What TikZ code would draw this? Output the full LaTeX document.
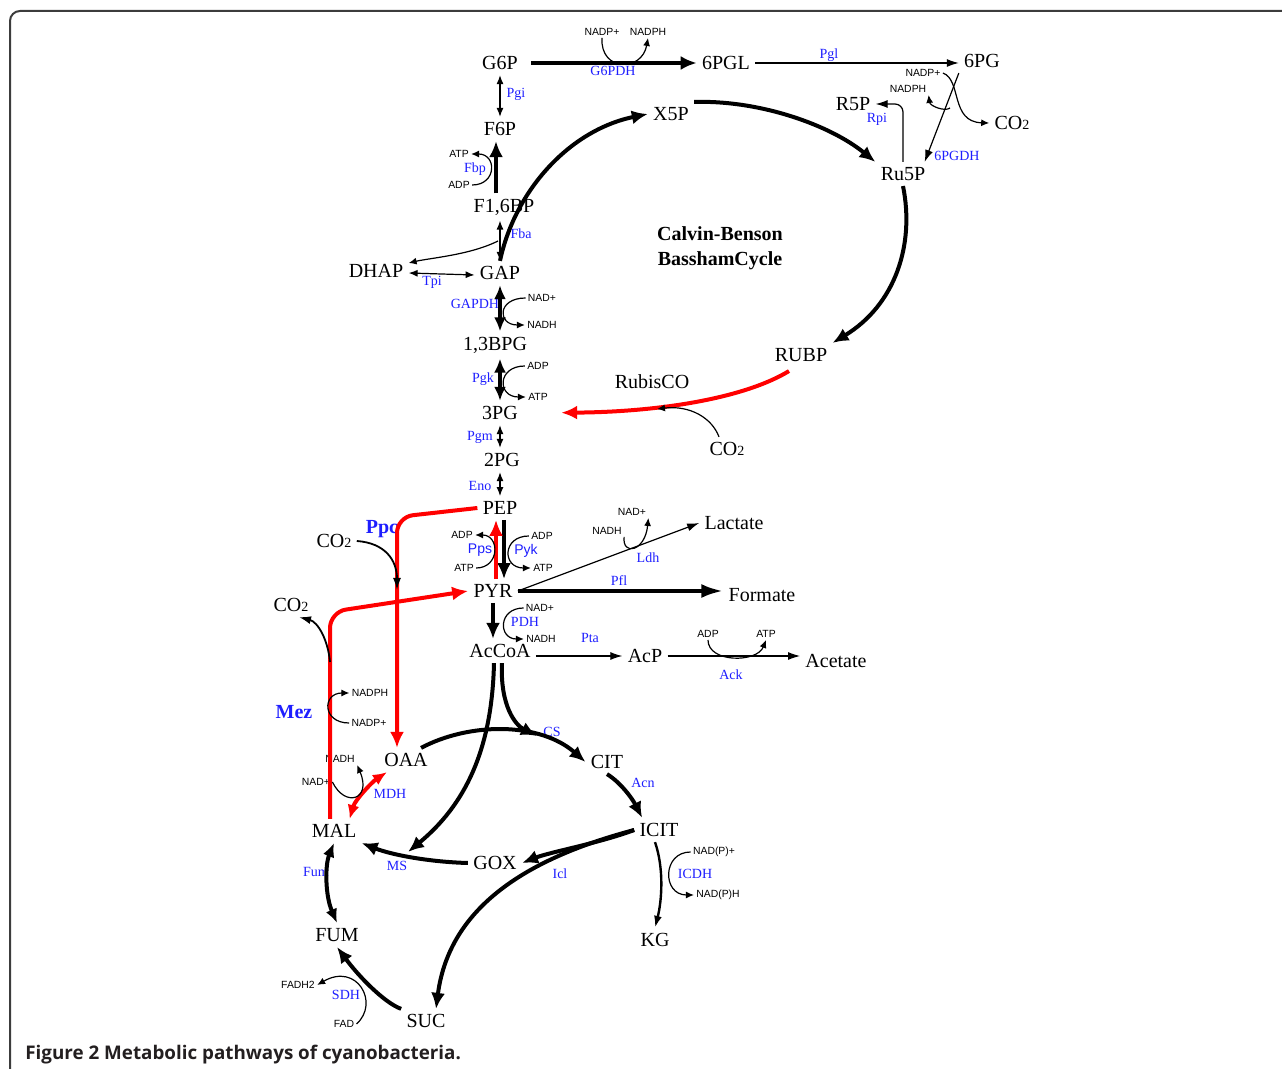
\documentclass[tikz,border=0pt]{standalone}
\usepackage{fontspec}
\setmainfont{Liberation Serif}
\newfontfamily\cofont{Liberation Sans}
\newfontfamily\capfont{Open Sans}
\usepackage{tikz}
\usetikzlibrary{arrows.meta}
\usetikzlibrary{positioning}

\definecolor{enzblue}{RGB}{30,30,255}
\definecolor{pathred}{RGB}{255,0,0}
\definecolor{framegray}{RGB}{60,60,60}
\definecolor{capgray}{RGB}{35,31,32}

\newcommand{\cotwo}{CO{\fontsize{7}{8}\selectfont 2}}

\tikzset{
  met/.style={font=\fontsize{10}{12}\selectfont, inner sep=2.5pt},
  enz/.style={font=\fontsize{7}{8}\selectfont, text=enzblue, inner sep=1pt},
  enzsf/.style={enz, font=\cofont\fontsize{7}{8}\selectfont},
  cof/.style={font=\cofont\fontsize{5.2}{6}\selectfont, inner sep=1pt},
  bigline/.style={draw, line width=2pt},
  fineline/.style={draw, line width=0.6pt},
  redline/.style={draw=pathred, line width=2pt},
  bigtip/.style={-{Latex[length=8pt,width=7pt]}},
  bigboth/.style={{Latex[length=7pt,width=6pt]}-{Latex[length=7pt,width=6pt]}},
  finetip/.style={-{Latex[length=6pt,width=4pt]}},
  fineboth/.style={{Latex[length=4.5pt,width=3.5pt]}-{Latex[length=4.5pt,width=3.5pt]}},
  cotip/.style={-{Latex[length=4pt,width=3.5pt]}},
}

\begin{document}
\begin{tikzpicture}[x=0.5pt,y=-0.5pt]
\useasboundingbox (0,0) rectangle (1282,1069);
\draw[framegray, line width=1pt, rounded corners=5pt] (1282,11) -- (10,11) -- (10,1069);

\begin{scope}[every node/.style={met}]
    \node (g6p) at (500,63) {G6P};
    \node (pgl) at (726,63) {6PGL};
    \node (pg) at (982,61) {6PG};
    \node (x5p) at (671,114) {X5P};
    \node (r5p) at (853,104) {R5P};
    \node (co2t) at (1012,123) {\cotwo};
    \node (ru5p) at (903,174) {Ru5P};
    \node (f6p) at (500,129) {F6P};
    \node (fbp) at (504,207) {F1,6BP};
    \node (dhap) at (376,271) {DHAP};
    \node (gap) at (500,273) {GAP};
    \node (bpg) at (495,345) {1,3BPG};
    \node (pga3) at (500,413) {3PG};
    \node (pga2) at (502,460) {2PG};
    \node (pep) at (500,508) {PEP};
    \node (pyr) at (493,591) {PYR};
    \node (accoa) at (500,651) {AcCoA};
    \node (acp) at (645,656) {AcP};
    \node (acet) at (836,661) {Acetate};
    \node (lact) at (734,523) {Lactate};
    \node (form) at (762,595) {Formate};
    \node (rubp) at (801,355) {RUBP};
    \node (rubisco) at (652,382) {RubisCO};
    \node (co2r) at (727,449) {\cotwo};
    \node (co2p) at (334,541) {\cotwo};
    \node (co2m) at (291,605) {\cotwo};
    \node (oaa) at (406,760) {OAA};
    \node (cit) at (607,762) {CIT};
    \node (icit) at (659,830) {ICIT};
    \node (mal) at (334,831) {MAL};
    \node (gox) at (495,863) {GOX};
    \node (fum) at (337,935) {FUM};
    \node (suc) at (426,1021) {SUC};
    \node (kg) at (655,940) {KG};
\end{scope}

\node[font=\bfseries\fontsize{10}{12.5}\selectfont, align=center] (cbb) at (720,248) {Calvin-Benson\\BasshamCycle};
\node[font=\bfseries\fontsize{10}{12}\selectfont, text=enzblue] (ppc) at (382,529) {Ppc};
\node[font=\bfseries\fontsize{10}{12}\selectfont, text=enzblue] (mez) at (294,712) {Mez};

\begin{scope}[every node/.style={enz}]
    \node (g6pdh) at (613,71) {G6PDH};
    \node (pgllab) at (829,55) {Pgl};
    \node (pgdh) at (957,156) {6PGDH};
    \node (rpi) at (877,119) {Rpi};
    \node (pgi) at (516,94) {Pgi};
    \node (fbpase) at (475,169) {Fbp};
    \node (fba) at (521,234) {Fba};
    \node (tpi) at (432,282) {Tpi};
    \node (gapdh) at (475,304) {GAPDH};
    \node (pgk) at (483,379) {Pgk};
    \node (pgm) at (480,437) {Pgm};
    \node (eno) at (480,486) {Eno};
    \node[enzsf] (pps) at (480,550) {Pps};
    \node[enzsf] (pyk) at (526,551) {Pyk};
    \node (ldh) at (648,558) {Ldh};
    \node (pfl) at (619,581) {Pfl};
    \node (pdh) at (525,622) {PDH};
    \node (pta) at (590,638) {Pta};
    \node (ack) at (731,675) {Ack};
    \node (mdh) at (390,794) {MDH};
    \node (cs) at (552,732) {CS};
    \node (acn) at (643,783) {Acn};
    \node (icl) at (560,874) {Icl};
    \node (ms) at (397,866) {MS};
    \node (fumase) at (316,872) {Fum};
    \node (sdh) at (346,995) {SDH};
    \node (icdh) at (695,874) {ICDH};
\end{scope}

\begin{scope}[every node/.style={cof}]
    \node (nadp1) at (602,32) {NADP+};
    \node (nadph1) at (648,32) {NADPH};
    \node (nadp2) at (923,73) {NADP+};
    \node (nadph2) at (908,89) {NADPH};
    \node (atp1) at (459,154) {ATP};
    \node (adp1) at (459,185) {ADP};
    \node (nad2) at (542,298) {NAD+};
    \node (nadh2) at (542,325) {NADH};
    \node (adp3) at (538,366) {ADP};
    \node (atp3) at (538,397) {ATP};
    \node (adp4) at (462,535) {ADP};
    \node (atp4) at (464,568) {ATP};
    \node (adp5) at (542,536) {ADP};
    \node (atp5) at (543,568) {ATP};
    \node (nad6) at (632,512) {NAD+};
    \node (nadh6) at (607,531) {NADH};
    \node (nad7) at (540,608) {NAD+};
    \node (nadh7) at (541,639) {NADH};
    \node (adp8) at (708,634) {ADP};
    \node (atp8) at (766,634) {ATP};
    \node (nadph9) at (370,693) {NADPH};
    \node (nadp9) at (369,723) {NADP+};
    \node (nadh10) at (340,759) {NADH};
    \node (nad10) at (316,782) {NAD+};
    \node (nadp11) at (714,852) {NAD(P)+};
    \node (nadph11) at (718,895) {NAD(P)H};
    \node (fadh) at (298,985) {FADH2};
    \node (fad) at (344,1024) {FAD};
\end{scope}

\coordinate (rubjoin) at (657,409);
\coordinate (ppcjoin) at (397,590);
\coordinate (ppcturn) at (397,517);
\coordinate (mezturn) at (330,612);
\coordinate (mezjoin) at (330,662);
\coordinate (csjoin) at (537,736);
\coordinate (msjoin) at (408,852);
\coordinate (fbajoin) at (498,241);
\coordinate (pgdhjoin) at (950,108);

% pentose phosphate
\draw[bigline,bigtip,shorten <=4pt] (g6p.east) -- (pgl.west);
\draw[fineline,finetip] (pgl.east) -- (pgl.east -| pg.west);
\draw[fineline,finetip] (pg.south west) -- ([xshift=-3pt]ru5p.north east);
\draw[fineline,finetip,rounded corners=4pt] (ru5p.north) |- (r5p.east);
\draw[fineline,cotip] (nadp1.south) .. controls (600,72) and (642,72) .. (nadph1.south);
\draw[fineline,cotip] (nadp2.east) .. controls (962,80) and (950,122) .. (co2t.west);
\draw[fineline,cotip] (pgdhjoin) .. controls (945,112) and (930,106) .. (nadph2.south east);

% calvin cycle
\draw[bigline,bigtip] (gap.north) .. controls (515,190) and (570,130) .. (x5p.west);
\draw[bigline,bigtip] (x5p.north east) .. controls (760,100) and (830,125) .. (ru5p.north west);
\draw[bigline,bigtip] (ru5p.south) .. controls (915,245) and (895,305) .. (rubp.north east);
\draw[redline,bigtip,shorten >=19pt] ([xshift=-6pt,yshift=-2pt]rubp.south) .. controls (745,398) and (660,412) .. (pga3.east);
\draw[fineline,cotip] ([xshift=-4pt]co2r.north) .. controls (712,418) and (690,405) .. (rubjoin);

% glycolysis
\draw[fineline,fineboth] (g6p.south) -- (f6p.north);
\draw[bigline,bigtip] ([xshift=-4pt]fbp.north) -- ([xshift=-2pt]f6p.south);
\draw[fineline,fineboth] ([xshift=-2pt]fbp.south) -- (gap.north);
\draw[fineline,cotip] (fbajoin) .. controls (470,255) and (430,258) .. ([yshift=4pt]dhap.east);
\draw[fineline,fineboth] ([yshift=-1pt]dhap.east) -- ([yshift=-1pt]gap.west);
\foreach \u/\v in {gap/bpg, bpg/pga3}
    \draw[bigline,bigboth] (gap.south |- \u.south) -- (gap.south |- \v.north);
\foreach \u/\v in {pga3/pga2, pga2/pep}
    \draw[fineline,fineboth] (pep.north |- \u.south) -- (pep.north |- \v.north);
\draw[fineline,cotip] (adp1.east) .. controls (497,185) and (497,154) .. (atp1.east);
\draw[fineline,cotip] (nad2.west) .. controls (497,298) and (497,325) .. (nadh2.west);
\draw[fineline,cotip] (adp3.west) .. controls (497,366) and (497,397) .. (atp3.west);

% pyruvate node
\draw[bigline,bigtip] ([xshift=2pt]pep.south) -- ([xshift=2pt]pep.south |- pyr.north);
\draw[redline,bigtip] ([xshift=-2pt]pep.south |- pyr.north) -- ([xshift=-2pt]pep.south);
\draw[fineline,cotip] (atp4.east) .. controls (500,568) and (500,535) .. (adp4.east);
\draw[fineline,cotip] (adp5.west) .. controls (502,536) and (502,568) .. (atp5.west);
\draw[fineline,finetip] (pyr.east) -- (lact.west);
\draw[fineline,cotip] (nadh6.south east) .. controls (622,556) and (645,552) .. (nad6.south east);
\draw[bigline,-{Latex[length=11pt,width=7pt]}] (pyr.east) -- (pyr.east -| form.west);
\draw[bigline,bigtip] (pyr.south) -- (pyr.south |- accoa.north);
\draw[fineline,cotip] (nad7.west) .. controls (498,608) and (498,639) .. (nadh7.west);
\draw[fineline,finetip] (accoa.east |- acp.west) -- (acp.west);
\draw[fineline,finetip] (acp.east) -- (acp.east -| acet.west);
\draw[fineline,cotip] (adp8.south) .. controls (708,663) and (757,663) .. (atp8.south);

% anaplerotic routes
\draw[redline,bigtip,rounded corners=8pt] (pep.west) -- (ppcturn) -- (ppcturn |- oaa.north);
\draw[fineline,line width=0.9pt,finetip] (co2p.east) .. controls (385,543) and (397,560) .. (ppcjoin);
\draw[redline,bigtip,rounded corners=8pt] (mezturn |- mal.north) -- (mezturn) -- (pyr.west);
\draw[fineline,line width=0.9pt,finetip] (mezjoin) .. controls (328,640) and (318,622) .. ([xshift=4pt]co2m.south);
\draw[fineline,cotip] (nadp9.west) .. controls (322,723) and (322,693) .. (nadph9.west);
\draw[redline,bigboth] ([xshift=4pt]oaa.south west) .. controls (372,782) and (355,800) .. ([xshift=-6pt]mal.north east);
\draw[fineline,cotip] (nad10.east) .. controls (345,808) and (372,800) .. (nadh10.south east);

% TCA and glyoxylate shunt
\draw[bigline,bigtip] ([xshift=-6pt]oaa.north east) .. controls (470,722) and (540,722) .. (cit.west);
\draw[bigline,bigtip] ([xshift=1pt]accoa.south) .. controls (500,705) and (515,725) .. (csjoin);
\draw[bigline,bigtip] ([xshift=-3pt]accoa.south) .. controls (492,750) and (465,805) .. (msjoin);
\draw[bigline,bigtip] (cit.south) .. controls (620,782) and (632,798) .. ([xshift=4pt]icit.north west);
\draw[bigline,bigtip] (icit.west) .. controls (600,843) and (550,852) .. (gox.east);
\draw[bigline,bigtip] (icit.west) .. controls (540,855) and (450,900) .. ([xshift=5pt]suc.north);
\draw[bigline,bigtip] (gox.west) .. controls (430,862) and (392,855) .. (mal.south east);
\draw[bigline,bigboth] (mal.south) .. controls (325,865) and (325,895) .. (fum.north);
\draw[bigline,bigtip] (suc.north west) .. controls (385,1003) and (360,978) .. (fum.south);
\draw[fineline,cotip] (fad.east) .. controls (380,1003) and (357,962) .. (fadh.east);
\draw[line width=1.2pt,finetip] ([xshift=-2pt]icit.south) .. controls (664,868) and (662,900) .. (kg.north);
\draw[fineline,cotip] (nadp11.west) .. controls (662,852) and (662,895) .. (nadph11.west);

\node[anchor=base west, inner sep=0pt, font=\capfont\bfseries\fontsize{9.4}{11}\selectfont, text=capgray] (caption) at (25,1059) {Figure 2 Metabolic pathways of cyanobacteria.};
\end{tikzpicture}
\end{document}
